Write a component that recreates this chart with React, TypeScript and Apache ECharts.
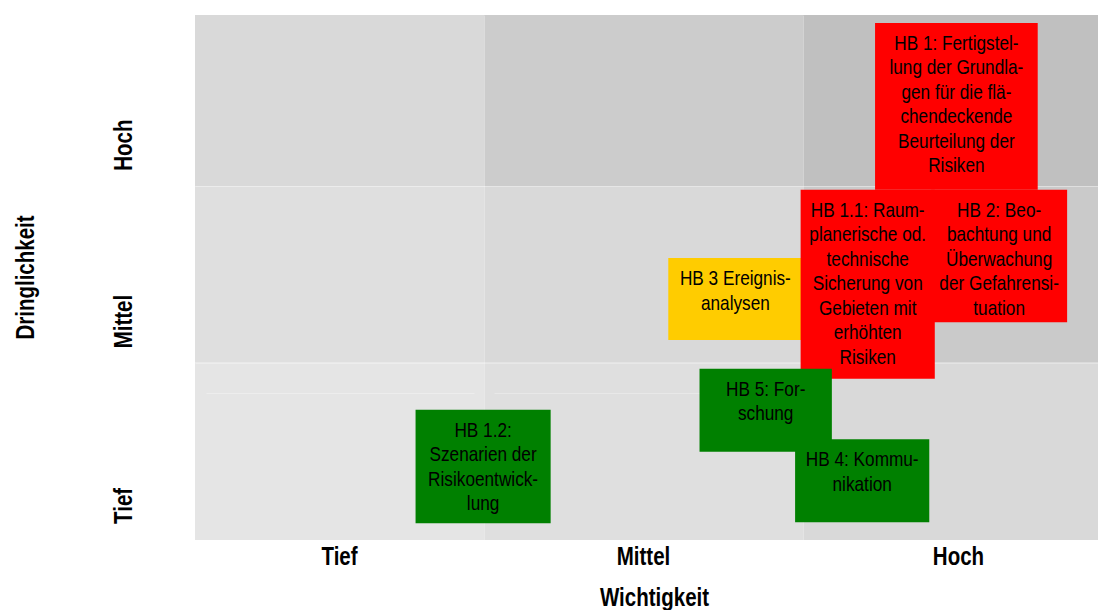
import React, { useEffect, useRef } from "react";
import * as echarts from "echarts";

const FONT = "'Liberation Sans', Arial, sans-serif";
// Horizontal squeeze that gives the narrow Arial look of the texts
const NARROW = 0.82;

// Axis levels (importance on x, urgency on y), positions on a 0–100 scale;
// the importance axis is cut at the right edge of the chart
const levelNames = ["Tief", "Mittel", "Hoch"];
const importanceEdges = [0, 31.45, 66.16, 100];
const importanceVisibleMax = 98.26;
const urgencyEdges = [0, 33.8, 67.4, 100];
const urgencyLabelAt = [6.5, 41.6, 75.2];
const importanceTitle = "Wichtigkeit";
const urgencyTitle = "Dringlichkeit";

// Shades of the 3x3 matrix cells, row 0 = low urgency
const cellShades = [
  ["#e5e5e5", "#dfdfdf", "#d9d9d9"],
  ["#dfdfdf", "#d9d9d9", "#cacaca"],
  ["#d9d9d9", "#cccccc", "#c0c0c0"],
];

// Action fields (Handlungsbereiche)
const measureLabels = [
  ["HB 1: Fertigstel-", "lung der Grundla-", "gen für die flä-", "chendeckende", "Beurteilung der", "Risiken"],
  ["HB 2: Beo-", "bachtung und", "Überwachung", "der Gefahrensi-", "tuation"],
  ["HB 3 Ereignis-", "analysen"],
  ["HB 1.1: Raum-", "planerische od.", "technische", "Sicherung von", "Gebieten mit", "erhöhten", "Risiken"],
  ["HB 5: For-", "schung"],
  ["HB 4: Kommu-", "nikation"],
  ["HB 1.2:", "Szenarien der", "Risikoentwick-", "lung"],
];
const measureImpFrom = [74.0, 80.1, 51.5, 65.9, 54.9, 65.3, 24.0];
const measureImpTo = [91.7, 94.9, 66.1, 80.5, 69.3, 79.9, 38.7];
const measureUrgFrom = [66.7, 41.5, 38.1, 30.7, 16.8, 3.4, 3.2];
const measureUrgTo = [98.5, 66.7, 53.7, 66.7, 32.6, 19.2, 24.8];
const measureColors = ["#ff0000", "#ff0000", "#ffcc00", "#ff0000", "#008000", "#008000", "#008000"];

// Thin light separators: [x0, y0, x1, y1]
const separators = [
  [importanceEdges[1], 0, importanceEdges[1], 100],
  [importanceEdges[2], 0, importanceEdges[2], 100],
  [0, urgencyEdges[1], 100, urgencyEdges[1]],
  [0, urgencyEdges[2], 100, urgencyEdges[2]],
  [1.2, 28.0, 30.4, 28.0],
  [32.5, 28.0, 65.1, 28.0],
];

const importanceLabelAt = levelNames.map((_, i) => (importanceEdges[i] + importanceEdges[i + 1]) / 2);

const boldText = (text: string) => ({
  text,
  align: "center",
  verticalAlign: "middle",
  fill: "#000000",
  fontFamily: FONT,
  fontWeight: "bold",
  fontSize: 25,
  lineHeight: 22,
});

export default function App() {
  const ref = useRef<HTMLDivElement>(null);

  useEffect(() => {
    if (!ref.current) return;
    const chart = echarts.init(ref.current, null, { renderer: "svg" });

    const cellData: number[][] = [];
    for (let r = 0; r < 3; r++) {
      for (let c = 0; c < 3; c++) {
        cellData.push([importanceEdges[c], urgencyEdges[r], importanceEdges[c + 1], urgencyEdges[r + 1], r, c]);
      }
    }

    // axis texts: [value on x, value on y, kind]; kind 0 = x tick, 1 = y tick, 2 = x title, 3 = y title
    const axisTextData: number[][] = [
      ...importanceLabelAt.map((v) => [v, 0, 0]),
      ...urgencyLabelAt.map((v) => [0, v, 1]),
      [50, 0, 2],
      [0, 50, 3],
    ];
    const axisTextStrings = [...levelNames, ...levelNames, importanceTitle, urgencyTitle];

    chart.setOption({
      animation: false,
      backgroundColor: "#ffffff",
      grid: { left: 195, top: 15, right: 0, bottom: 70 },
      xAxis: {
        type: "value",
        min: 0,
        max: importanceVisibleMax,
        axisLine: { show: false },
        axisTick: { show: false },
        splitLine: { show: false },
        axisLabel: { show: false },
      },
      yAxis: {
        type: "value",
        min: 0,
        max: 100,
        axisLine: { show: false },
        axisTick: { show: false },
        splitLine: { show: false },
        axisLabel: { show: false },
      },
      series: [
        {
          type: "custom",
          silent: true,
          data: cellData,
          renderItem: (params: any, api: any) => {
            const p0 = api.coord([api.value(0), api.value(1)]);
            const p1 = api.coord([api.value(2), api.value(3)]);
            const r = api.value(4);
            const c = api.value(5);
            return {
              type: "rect",
              shape: { x: p0[0], y: p1[1], width: p1[0] - p0[0], height: p0[1] - p1[1] },
              style: { fill: cellShades[r][c] },
            };
          },
        },
        {
          type: "custom",
          silent: true,
          data: separators,
          renderItem: (params: any, api: any) => {
            const a = api.coord([api.value(0), api.value(1)]);
            const b = api.coord([api.value(2), api.value(3)]);
            return {
              type: "line",
              shape: {
                x1: Math.round(a[0]) + 0.5,
                y1: Math.round(a[1]) + 0.5,
                x2: Math.round(b[0]) + 0.5,
                y2: Math.round(b[1]) + 0.5,
              },
              style: { stroke: "rgba(255,255,255,0.3)", lineWidth: 1 },
            };
          },
        },
        {
          type: "custom",
          silent: true,
          data: measureLabels.map((_, i) => [measureImpFrom[i], measureUrgFrom[i], measureImpTo[i], measureUrgTo[i]]),
          renderItem: (params: any, api: any) => {
            const i = params.dataIndex;
            const p0 = api.coord([api.value(0), api.value(1)]);
            const p1 = api.coord([api.value(2), api.value(3)]);
            const left = p0[0];
            const top = p1[1];
            const w = p1[0] - p0[0];
            const h = p0[1] - p1[1];
            return {
              type: "group",
              children: [
                {
                  type: "rect",
                  shape: { x: left, y: top, width: w, height: h },
                  style: { fill: measureColors[i] },
                },
                {
                  type: "text",
                  x: left + w / 2,
                  y: top + 7.75,
                  scaleX: NARROW,
                  style: {
                    text: measureLabels[i].join("\n"),
                    align: "center",
                    verticalAlign: "top",
                    fill: "#000000",
                    fontFamily: FONT,
                    fontSize: 21,
                    lineHeight: 24.5,
                  },
                },
              ],
            };
          },
        },
        {
          type: "custom",
          silent: true,
          clip: false,
          data: axisTextData,
          renderItem: (params: any, api: any) => {
            const i = params.dataIndex;
            const kind = api.value(2);
            const p = api.coord([api.value(0), api.value(1)]);
            const text = axisTextStrings[i];
            if (kind === 0) {
              return { type: "text", x: p[0], y: p[1] + 16, scaleX: NARROW, style: boldText(text) };
            }
            if (kind === 1) {
              return { type: "text", x: p[0] - 72, y: p[1], rotation: Math.PI / 2, scaleX: NARROW, style: boldText(text) };
            }
            if (kind === 2) {
              return { type: "text", x: p[0], y: p[1] + 57, scaleX: NARROW, style: boldText(text) };
            }
            return { type: "text", x: p[0] - 170, y: p[1], rotation: Math.PI / 2, scaleX: NARROW, style: boldText(text) };
          },
        },
      ],
    });

    return () => chart.dispose();
  }, []);

  return <div ref={ref} style={{ position: "absolute", left: 0, top: 0, width: 1098, height: 610 }} />;
}
